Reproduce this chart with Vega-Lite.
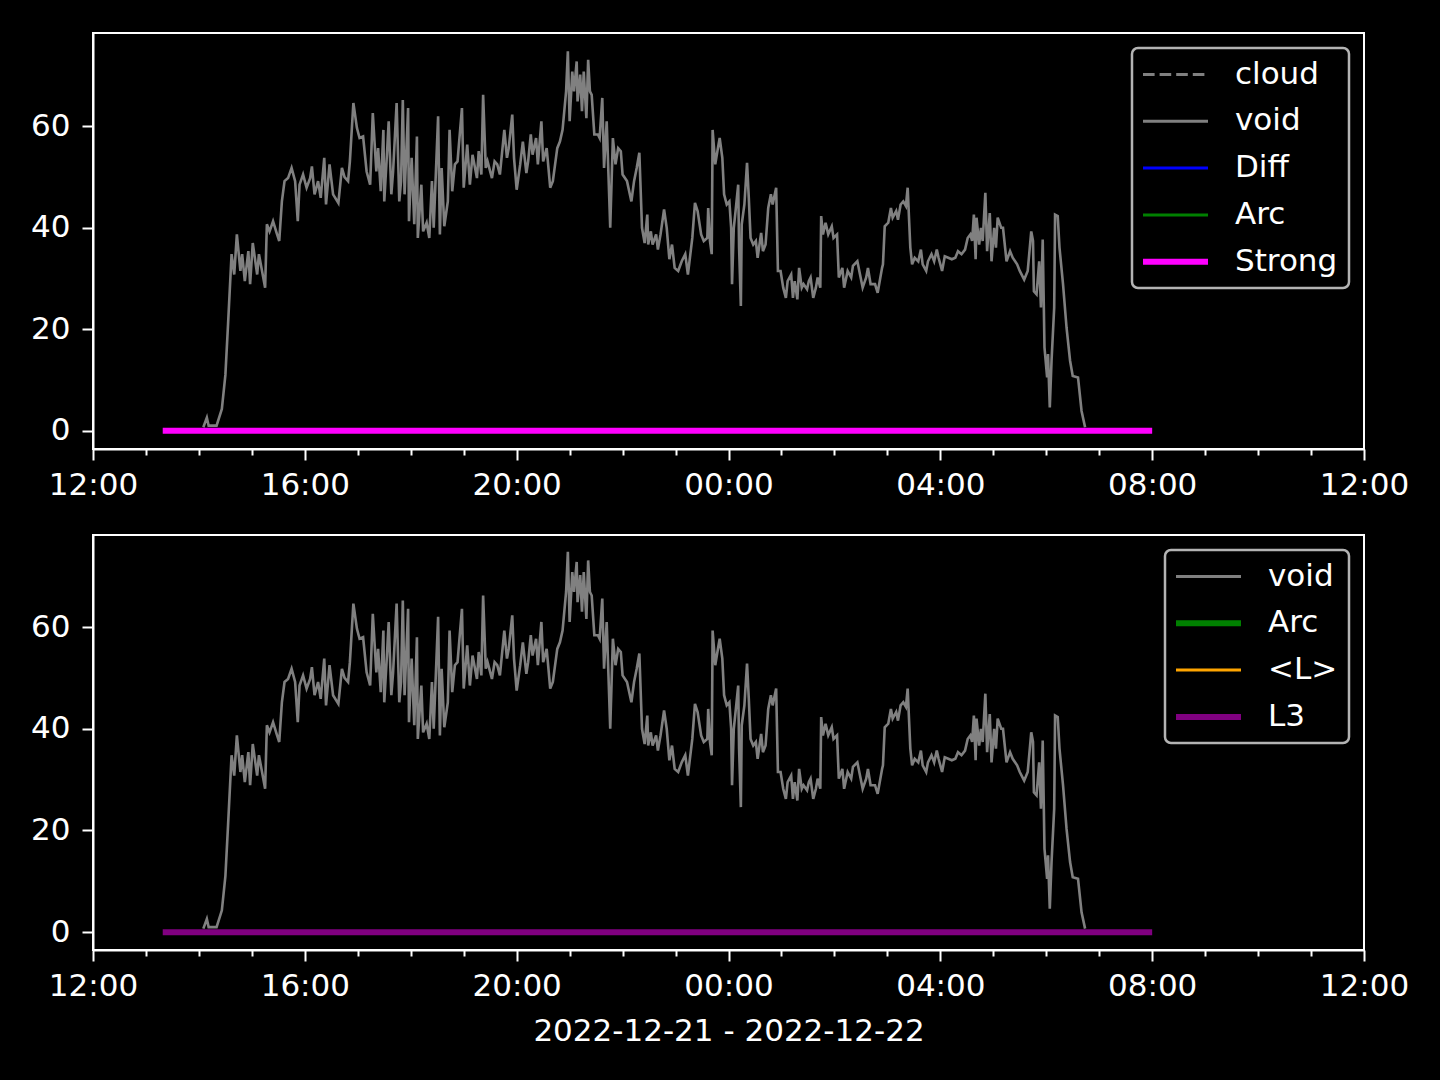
{
"$schema": "https://vega.github.io/schema/vega-lite/v6.json",
"background": "black",
"padding": {"left": 29, "top": 32, "right": 39, "bottom": 40},
"spacing": 33,
"config": {
  "font": "DejaVu Sans",
  "view": {"stroke": "white", "strokeWidth": 2},
  "axis": {"domainColor": "white", "domainWidth": 2, "tickColor": "white", "tickWidth": 2, "tickSize": 11, "labelColor": "white", "labelFontSize": 31, "labelFont": "DejaVu Sans", "labelPadding": 10, "grid": false, "titleColor": "white", "titleFontSize": 31, "titleFontWeight": "normal", "titleFont": "DejaVu Sans"},
  "axisY": {"labelPadding": 12},
  "legend": {"orient": "top-right", "offset": 15, "padding": 11, "strokeColor": "#b3b3b3", "fillColor": "black", "cornerRadius": 6, "labelColor": "white", "labelFontSize": 31, "labelFont": "DejaVu Sans", "symbolType": "stroke", "symbolSize": 4225, "symbolStrokeWidth": 3, "rowPadding": 14.8, "labelOffset": 61}
},
"vconcat": [
  {
    "width": 1271, "height": 416,
    "layer": [
      {
        "data": {"values": [
{"t":"2022-12-21T14:05","v":0.7},{"t":"2022-12-21T14:09","v":2.6},{"t":"2022-12-21T14:11","v":1.0},{"t":"2022-12-21T14:20","v":1.0},{"t":"2022-12-21T14:26","v":4.3},{"t":"2022-12-21T14:30","v":11},{"t":"2022-12-21T14:33","v":21},{"t":"2022-12-21T14:37","v":34.8},{"t":"2022-12-21T14:40","v":30.8},{"t":"2022-12-21T14:43","v":38.7},{"t":"2022-12-21T14:47","v":31.5},{"t":"2022-12-21T14:49","v":34.8},{"t":"2022-12-21T14:52","v":29.5},{"t":"2022-12-21T14:56","v":35.4},{"t":"2022-12-21T14:58","v":28.9},{"t":"2022-12-21T15:01","v":37},{"t":"2022-12-21T15:06","v":30.8},{"t":"2022-12-21T15:08","v":34.8},{"t":"2022-12-21T15:11","v":32},{"t":"2022-12-21T15:15","v":28.2},{"t":"2022-12-21T15:17","v":40.7},{"t":"2022-12-21T15:20","v":39.3},{"t":"2022-12-21T15:24","v":41.3},{"t":"2022-12-21T15:28","v":39},{"t":"2022-12-21T15:31","v":37.4},{"t":"2022-12-21T15:34","v":45.2},{"t":"2022-12-21T15:37","v":49.2},{"t":"2022-12-21T15:41","v":49.8},{"t":"2022-12-21T15:45","v":51.8},{"t":"2022-12-21T15:49","v":49.2},{"t":"2022-12-21T15:52","v":41.3},{"t":"2022-12-21T15:54","v":48.5},{"t":"2022-12-21T15:58","v":50.5},{"t":"2022-12-21T16:02","v":47.9},{"t":"2022-12-21T16:06","v":49.8},{"t":"2022-12-21T16:08","v":52.1},{"t":"2022-12-21T16:11","v":46.6},{"t":"2022-12-21T16:15","v":49.2},{"t":"2022-12-21T16:18","v":45.9},{"t":"2022-12-21T16:22","v":53.8},{"t":"2022-12-21T16:24","v":44.6},{"t":"2022-12-21T16:28","v":52.5},{"t":"2022-12-21T16:32","v":46.6},{"t":"2022-12-21T16:38","v":44.9},{"t":"2022-12-21T16:42","v":51.8},{"t":"2022-12-21T16:45","v":50},{"t":"2022-12-21T16:49","v":49.2},{"t":"2022-12-21T16:51","v":53},{"t":"2022-12-21T16:55","v":64.6},{"t":"2022-12-21T16:59","v":59.7},{"t":"2022-12-21T17:02","v":57.7},{"t":"2022-12-21T17:06","v":58},{"t":"2022-12-21T17:10","v":51.1},{"t":"2022-12-21T17:14","v":48.5},{"t":"2022-12-21T17:17","v":62.6},{"t":"2022-12-21T17:21","v":51.1},{"t":"2022-12-21T17:23","v":55.7},{"t":"2022-12-21T17:26","v":47.2},{"t":"2022-12-21T17:29","v":59.3},{"t":"2022-12-21T17:30","v":45.2},{"t":"2022-12-21T17:33","v":54.4},{"t":"2022-12-21T17:35","v":61},{"t":"2022-12-21T17:38","v":46.6},{"t":"2022-12-21T17:40","v":51.1},{"t":"2022-12-21T17:44","v":64.6},{"t":"2022-12-21T17:47","v":45.2},{"t":"2022-12-21T17:49","v":49.2},{"t":"2022-12-21T17:51","v":65.2},{"t":"2022-12-21T17:53","v":46.6},{"t":"2022-12-21T17:57","v":63.6},{"t":"2022-12-21T17:58","v":41.3},{"t":"2022-12-21T18:01","v":53.8},{"t":"2022-12-21T18:04","v":40.7},{"t":"2022-12-21T18:07","v":58},{"t":"2022-12-21T18:08","v":38},{"t":"2022-12-21T18:12","v":48.5},{"t":"2022-12-21T18:14","v":39.3},{"t":"2022-12-21T18:18","v":41},{"t":"2022-12-21T18:21","v":38},{"t":"2022-12-21T18:24","v":49.2},{"t":"2022-12-21T18:26","v":40},{"t":"2022-12-21T18:31","v":62},{"t":"2022-12-21T18:33","v":38.7},{"t":"2022-12-21T18:35","v":51.8},{"t":"2022-12-21T18:38","v":40.3},{"t":"2022-12-21T18:42","v":45.2},{"t":"2022-12-21T18:44","v":59.3},{"t":"2022-12-21T18:47","v":47.2},{"t":"2022-12-21T18:50","v":52.5},{"t":"2022-12-21T18:53","v":53.1},{"t":"2022-12-21T18:58","v":63.6},{"t":"2022-12-21T19:00","v":47.9},{"t":"2022-12-21T19:04","v":56.4},{"t":"2022-12-21T19:07","v":48.5},{"t":"2022-12-21T19:10","v":54.4},{"t":"2022-12-21T19:15","v":49.8},{"t":"2022-12-21T19:17","v":55.1},{"t":"2022-12-21T19:20","v":50.5},{"t":"2022-12-21T19:22","v":66.2},{"t":"2022-12-21T19:25","v":51.8},{"t":"2022-12-21T19:27","v":53.1},{"t":"2022-12-21T19:32","v":49.8},{"t":"2022-12-21T19:35","v":53.1},{"t":"2022-12-21T19:38","v":52.5},{"t":"2022-12-21T19:41","v":50.5},{"t":"2022-12-21T19:46","v":59.3},{"t":"2022-12-21T19:49","v":53.8},{"t":"2022-12-21T19:51","v":55.7},{"t":"2022-12-21T19:55","v":62.3},{"t":"2022-12-21T19:57","v":53.8},{"t":"2022-12-21T20:00","v":47.5},{"t":"2022-12-21T20:04","v":52.5},{"t":"2022-12-21T20:07","v":57},{"t":"2022-12-21T20:11","v":50.8},{"t":"2022-12-21T20:13","v":53.1},{"t":"2022-12-21T20:16","v":58.4},{"t":"2022-12-21T20:18","v":54.4},{"t":"2022-12-21T20:22","v":57.7},{"t":"2022-12-21T20:24","v":52.5},{"t":"2022-12-21T20:28","v":61},{"t":"2022-12-21T20:30","v":53.1},{"t":"2022-12-21T20:34","v":55.7},{"t":"2022-12-21T20:38","v":47.9},{"t":"2022-12-21T20:41","v":49.2},{"t":"2022-12-21T20:46","v":55.7},{"t":"2022-12-21T20:49","v":57},{"t":"2022-12-21T20:52","v":59.3},{"t":"2022-12-21T20:56","v":66.9},{"t":"2022-12-21T20:58","v":74.8},{"t":"2022-12-21T21:00","v":61},{"t":"2022-12-21T21:03","v":70.8},{"t":"2022-12-21T21:05","v":66.9},{"t":"2022-12-21T21:08","v":72.8},{"t":"2022-12-21T21:09","v":64.9},{"t":"2022-12-21T21:12","v":70.2},{"t":"2022-12-21T21:14","v":63},{"t":"2022-12-21T21:16","v":70.8},{"t":"2022-12-21T21:19","v":61.6},{"t":"2022-12-21T21:21","v":73.1},{"t":"2022-12-21T21:23","v":66.9},{"t":"2022-12-21T21:25","v":66.2},{"t":"2022-12-21T21:28","v":58.4},{"t":"2022-12-21T21:32","v":58.4},{"t":"2022-12-21T21:34","v":57.7},{"t":"2022-12-21T21:37","v":65.6},{"t":"2022-12-21T21:39","v":51.8},{"t":"2022-12-21T21:42","v":61},{"t":"2022-12-21T21:46","v":40},{"t":"2022-12-21T21:49","v":57.7},{"t":"2022-12-21T21:52","v":52.5},{"t":"2022-12-21T21:55","v":55.7},{"t":"2022-12-21T21:58","v":55.1},{"t":"2022-12-21T22:00","v":50.5},{"t":"2022-12-21T22:05","v":49.2},{"t":"2022-12-21T22:10","v":45.2},{"t":"2022-12-21T22:13","v":49.2},{"t":"2022-12-21T22:16","v":51.8},{"t":"2022-12-21T22:19","v":54.8},{"t":"2022-12-21T22:22","v":40},{"t":"2022-12-21T22:25","v":37},{"t":"2022-12-21T22:28","v":42.6},{"t":"2022-12-21T22:29","v":36.7},{"t":"2022-12-21T22:32","v":39.3},{"t":"2022-12-21T22:34","v":36.7},{"t":"2022-12-21T22:38","v":38.7},{"t":"2022-12-21T22:40","v":35.7},{"t":"2022-12-21T22:43","v":38.7},{"t":"2022-12-21T22:47","v":43.6},{"t":"2022-12-21T22:50","v":40},{"t":"2022-12-21T22:53","v":33.8},{"t":"2022-12-21T22:56","v":36.7},{"t":"2022-12-21T22:59","v":32.1},{"t":"2022-12-21T23:03","v":31.5},{"t":"2022-12-21T23:07","v":33.4},{"t":"2022-12-21T23:11","v":34.8},{"t":"2022-12-21T23:14","v":30.8},{"t":"2022-12-21T23:19","v":38},{"t":"2022-12-21T23:22","v":44.9},{"t":"2022-12-21T23:25","v":43.3},{"t":"2022-12-21T23:29","v":38.7},{"t":"2022-12-21T23:32","v":37.4},{"t":"2022-12-21T23:36","v":38},{"t":"2022-12-21T23:37","v":43.9},{"t":"2022-12-21T23:39","v":37.4},{"t":"2022-12-21T23:41","v":34.8},{"t":"2022-12-21T23:42","v":59.3},{"t":"2022-12-21T23:45","v":52.5},{"t":"2022-12-21T23:48","v":55.7},{"t":"2022-12-21T23:50","v":57.7},{"t":"2022-12-21T23:53","v":53.8},{"t":"2022-12-21T23:55","v":46.6},{"t":"2022-12-21T23:58","v":44.6},
{"t":"2022-12-22T00:01","v":45.2},{"t":"2022-12-22T00:03","v":40},{"t":"2022-12-22T00:04","v":28.9},{"t":"2022-12-22T00:06","v":40},{"t":"2022-12-22T00:08","v":43.3},{"t":"2022-12-22T00:11","v":48.5},{"t":"2022-12-22T00:12","v":36.1},{"t":"2022-12-22T00:14","v":24.6},{"t":"2022-12-22T00:15","v":40.7},{"t":"2022-12-22T00:18","v":44.6},{"t":"2022-12-22T00:21","v":52.8},{"t":"2022-12-22T00:23","v":45.9},{"t":"2022-12-22T00:25","v":38},{"t":"2022-12-22T00:28","v":36.7},{"t":"2022-12-22T00:31","v":37.4},{"t":"2022-12-22T00:33","v":34.1},{"t":"2022-12-22T00:37","v":39},{"t":"2022-12-22T00:39","v":35.4},{"t":"2022-12-22T00:42","v":36.7},{"t":"2022-12-22T00:45","v":43.9},{"t":"2022-12-22T00:48","v":46.6},{"t":"2022-12-22T00:50","v":44.6},{"t":"2022-12-22T00:54","v":47.9},{"t":"2022-12-22T00:56","v":31.5},{"t":"2022-12-22T00:59","v":31.5},{"t":"2022-12-22T01:02","v":28.2},{"t":"2022-12-22T01:05","v":26.2},{"t":"2022-12-22T01:07","v":29.5},{"t":"2022-12-22T01:11","v":30.8},{"t":"2022-12-22T01:13","v":26.2},{"t":"2022-12-22T01:15","v":29.5},{"t":"2022-12-22T01:18","v":25.9},{"t":"2022-12-22T01:20","v":32.1},{"t":"2022-12-22T01:23","v":28.2},{"t":"2022-12-22T01:25","v":28.9},{"t":"2022-12-22T01:29","v":27.9},{"t":"2022-12-22T01:31","v":29.5},{"t":"2022-12-22T01:33","v":30.2},{"t":"2022-12-22T01:36","v":26.2},{"t":"2022-12-22T01:39","v":28.2},{"t":"2022-12-22T01:41","v":30.2},{"t":"2022-12-22T01:44","v":28.2},{"t":"2022-12-22T01:45","v":42.3},{"t":"2022-12-22T01:47","v":38.7},{"t":"2022-12-22T01:50","v":41},{"t":"2022-12-22T01:53","v":38.7},{"t":"2022-12-22T01:57","v":40.3},{"t":"2022-12-22T01:59","v":38},{"t":"2022-12-22T02:03","v":38.7},{"t":"2022-12-22T02:05","v":30.2},{"t":"2022-12-22T02:09","v":32.1},{"t":"2022-12-22T02:11","v":28.2},{"t":"2022-12-22T02:15","v":31.5},{"t":"2022-12-22T02:19","v":30.2},{"t":"2022-12-22T02:21","v":32.5},{"t":"2022-12-22T02:26","v":33.4},{"t":"2022-12-22T02:29","v":30.8},{"t":"2022-12-22T02:32","v":28.2},{"t":"2022-12-22T02:36","v":30.2},{"t":"2022-12-22T02:38","v":32.1},{"t":"2022-12-22T02:41","v":28.9},{"t":"2022-12-22T02:46","v":28.9},{"t":"2022-12-22T02:49","v":27.2},{"t":"2022-12-22T02:54","v":32.1},{"t":"2022-12-22T02:55","v":32.8},{"t":"2022-12-22T02:57","v":40.3},{"t":"2022-12-22T03:01","v":41},{"t":"2022-12-22T03:04","v":43.9},{"t":"2022-12-22T03:06","v":42},{"t":"2022-12-22T03:10","v":43.3},{"t":"2022-12-22T03:12","v":41.6},{"t":"2022-12-22T03:15","v":44.6},{"t":"2022-12-22T03:18","v":45.2},{"t":"2022-12-22T03:21","v":44.3},{"t":"2022-12-22T03:23","v":47.9},{"t":"2022-12-22T03:26","v":36.1},{"t":"2022-12-22T03:28","v":32.8},{"t":"2022-12-22T03:31","v":34.1},{"t":"2022-12-22T03:35","v":33.4},{"t":"2022-12-22T03:38","v":35.7},{"t":"2022-12-22T03:40","v":32.8},{"t":"2022-12-22T03:44","v":31.5},{"t":"2022-12-22T03:46","v":33.4},{"t":"2022-12-22T03:50","v":34.8},{"t":"2022-12-22T03:53","v":33.4},{"t":"2022-12-22T03:56","v":35.7},{"t":"2022-12-22T03:58","v":34.1},{"t":"2022-12-22T04:02","v":31.5},{"t":"2022-12-22T04:05","v":34.4},{"t":"2022-12-22T04:09","v":34.1},{"t":"2022-12-22T04:13","v":33.8},{"t":"2022-12-22T04:17","v":34.1},{"t":"2022-12-22T04:20","v":35.4},{"t":"2022-12-22T04:24","v":34.8},{"t":"2022-12-22T04:28","v":35.7},{"t":"2022-12-22T04:31","v":38},{"t":"2022-12-22T04:34","v":38.7},{"t":"2022-12-22T04:36","v":37.4},{"t":"2022-12-22T04:38","v":42.6},{"t":"2022-12-22T04:40","v":33.8},{"t":"2022-12-22T04:41","v":42},{"t":"2022-12-22T04:44","v":36.7},{"t":"2022-12-22T04:46","v":40},{"t":"2022-12-22T04:48","v":37.4},{"t":"2022-12-22T04:51","v":46.9},{"t":"2022-12-22T04:53","v":35.4},{"t":"2022-12-22T04:56","v":42.9},{"t":"2022-12-22T04:58","v":33.4},{"t":"2022-12-22T05:01","v":40},{"t":"2022-12-22T05:03","v":36.1},{"t":"2022-12-22T05:05","v":42},{"t":"2022-12-22T05:09","v":40},{"t":"2022-12-22T05:11","v":40},{"t":"2022-12-22T05:15","v":33.4},{"t":"2022-12-22T05:19","v":35.4},{"t":"2022-12-22T05:22","v":34.1},{"t":"2022-12-22T05:27","v":32.8},{"t":"2022-12-22T05:30","v":31.5},{"t":"2022-12-22T05:35","v":29.8},{"t":"2022-12-22T05:39","v":31.5},{"t":"2022-12-22T05:43","v":39.3},{"t":"2022-12-22T05:45","v":37.4},{"t":"2022-12-22T05:46","v":27.5},{"t":"2022-12-22T05:49","v":26.9},{"t":"2022-12-22T05:52","v":33.4},{"t":"2022-12-22T05:54","v":24.3},{"t":"2022-12-22T05:56","v":37.7},{"t":"2022-12-22T05:58","v":16.4},{"t":"2022-12-22T06:01","v":10.5},{"t":"2022-12-22T06:02","v":15.1},{"t":"2022-12-22T06:04","v":4.6},{"t":"2022-12-22T06:06","v":13.8},{"t":"2022-12-22T06:09","v":24.3},{"t":"2022-12-22T06:10","v":42.6},{"t":"2022-12-22T06:13","v":42.3},{"t":"2022-12-22T06:15","v":36.1},{"t":"2022-12-22T06:19","v":28.9},{"t":"2022-12-22T06:23","v":20.3},{"t":"2022-12-22T06:27","v":13.8},{"t":"2022-12-22T06:30","v":10.8},{"t":"2022-12-22T06:36","v":10.5},{"t":"2022-12-22T06:40","v":3.9},{"t":"2022-12-22T06:44","v":0.7}
        ], "name": "voidTop"},
        "mark": {"type": "line", "strokeWidth": 2.6},
        "encoding": {
          "x": {"field": "t", "type": "temporal", "scale": {"domain": [{"year": 2022, "month": 12, "date": 21, "hours": 12}, {"year": 2022, "month": 12, "date": 22, "hours": 12}], "nice": false},
                "axis": {"title": null, "values": [{"year":2022,"month":12,"date":21,"hours":12},{"year":2022,"month":12,"date":21,"hours":13},{"year":2022,"month":12,"date":21,"hours":14},{"year":2022,"month":12,"date":21,"hours":15},{"year":2022,"month":12,"date":21,"hours":16},{"year":2022,"month":12,"date":21,"hours":17},{"year":2022,"month":12,"date":21,"hours":18},{"year":2022,"month":12,"date":21,"hours":19},{"year":2022,"month":12,"date":21,"hours":20},{"year":2022,"month":12,"date":21,"hours":21},{"year":2022,"month":12,"date":21,"hours":22},{"year":2022,"month":12,"date":21,"hours":23},{"year":2022,"month":12,"date":22,"hours":0},{"year":2022,"month":12,"date":22,"hours":1},{"year":2022,"month":12,"date":22,"hours":2},{"year":2022,"month":12,"date":22,"hours":3},{"year":2022,"month":12,"date":22,"hours":4},{"year":2022,"month":12,"date":22,"hours":5},{"year":2022,"month":12,"date":22,"hours":6},{"year":2022,"month":12,"date":22,"hours":7},{"year":2022,"month":12,"date":22,"hours":8},{"year":2022,"month":12,"date":22,"hours":9},{"year":2022,"month":12,"date":22,"hours":10},{"year":2022,"month":12,"date":22,"hours":11},{"year":2022,"month":12,"date":22,"hours":12}],
                         "labelExpr": "hours(datum.value) % 4 === 0 ? timeFormat(datum.value, '%H:%M') : ''",
                         "tickDash": {"condition": {"test": "hours(datum.value) % 4 === 0", "value": [11, 0]}, "value": [6, 30]},
                         "labelOverlap": false, "labelFlush": false}},
          "y": {"field": "v", "type": "quantitative", "scale": {"domain": [-3.6, 78.4], "nice": false, "zero": false}, "axis": {"title": null, "values": [0, 20, 40, 60]}},
          "color": {"datum": "void", "type": "nominal", "scale": {"domain": ["cloud", "void", "Diff", "Arc", "Strong"], "range": ["#808080", "#808080", "#0000ff", "#008000", "#ff00ff"]},
                    "legend": {"title": null, "encode": {"legend": {"update": {"strokeWidth": {"value": 2.5}}}, "symbols": {"update": {"x": {"value": 32.5}, "strokeWidth": {"signal": "datum.value === 'Strong' ? 6 : 3"}, "strokeDash": {"signal": "datum.value === 'cloud' ? [11.6, 5] : [1, 0]"}}}}}}
        }
      },
      {
        "data": {"values": [{"t": "2022-12-21T13:19", "v": 0}, {"t": "2022-12-22T08:00", "v": 0}]},
        "mark": {"type": "line", "strokeWidth": 6},
        "encoding": {
          "x": {"field": "t", "type": "temporal"},
          "y": {"field": "v", "type": "quantitative"},
          "color": {"datum": "Strong", "type": "nominal"}
        }
      }
    ]
  },
  {
    "width": 1271, "height": 415,
    "layer": [
      {
        "data": {"name": "voidTop"},
        "mark": {"type": "line", "strokeWidth": 2.6},
        "encoding": {
          "x": {"field": "t", "type": "temporal", "scale": {"domain": [{"year": 2022, "month": 12, "date": 21, "hours": 12}, {"year": 2022, "month": 12, "date": 22, "hours": 12}], "nice": false},
                "axis": {"title": "2022-12-21 - 2022-12-22", "titlePadding": 15, "values": [{"year":2022,"month":12,"date":21,"hours":12},{"year":2022,"month":12,"date":21,"hours":13},{"year":2022,"month":12,"date":21,"hours":14},{"year":2022,"month":12,"date":21,"hours":15},{"year":2022,"month":12,"date":21,"hours":16},{"year":2022,"month":12,"date":21,"hours":17},{"year":2022,"month":12,"date":21,"hours":18},{"year":2022,"month":12,"date":21,"hours":19},{"year":2022,"month":12,"date":21,"hours":20},{"year":2022,"month":12,"date":21,"hours":21},{"year":2022,"month":12,"date":21,"hours":22},{"year":2022,"month":12,"date":21,"hours":23},{"year":2022,"month":12,"date":22,"hours":0},{"year":2022,"month":12,"date":22,"hours":1},{"year":2022,"month":12,"date":22,"hours":2},{"year":2022,"month":12,"date":22,"hours":3},{"year":2022,"month":12,"date":22,"hours":4},{"year":2022,"month":12,"date":22,"hours":5},{"year":2022,"month":12,"date":22,"hours":6},{"year":2022,"month":12,"date":22,"hours":7},{"year":2022,"month":12,"date":22,"hours":8},{"year":2022,"month":12,"date":22,"hours":9},{"year":2022,"month":12,"date":22,"hours":10},{"year":2022,"month":12,"date":22,"hours":11},{"year":2022,"month":12,"date":22,"hours":12}],
                         "labelExpr": "hours(datum.value) % 4 === 0 ? timeFormat(datum.value, '%H:%M') : ''",
                         "tickDash": {"condition": {"test": "hours(datum.value) % 4 === 0", "value": [11, 0]}, "value": [6, 30]},
                         "labelOverlap": false, "labelFlush": false}},
          "y": {"field": "v", "type": "quantitative", "scale": {"domain": [-3.5, 78.1], "nice": false, "zero": false}, "axis": {"title": null, "values": [0, 20, 40, 60]}},
          "color": {"datum": "void", "type": "nominal", "scale": {"domain": ["void", "Arc", "<L>", "L3"], "range": ["#808080", "#008000", "#ffa500", "#800080"]},
                    "legend": {"title": null, "encode": {"legend": {"update": {"strokeWidth": {"value": 2.5}}}, "symbols": {"update": {"x": {"value": 32.5}, "strokeWidth": {"signal": "datum.value === 'Arc' || datum.value === 'L3' ? 6 : 3"}}}}}}
        }
      },
      {
        "data": {"values": [{"t": "2022-12-21T13:19", "v": 0}, {"t": "2022-12-22T08:00", "v": 0}]},
        "mark": {"type": "line", "strokeWidth": 6},
        "encoding": {
          "x": {"field": "t", "type": "temporal"},
          "y": {"field": "v", "type": "quantitative"},
          "color": {"datum": "L3", "type": "nominal"}
        }
      }
    ]
  }
],
"resolve": {"scale": {"color": "independent"}, "legend": {"color": "independent"}}
}
